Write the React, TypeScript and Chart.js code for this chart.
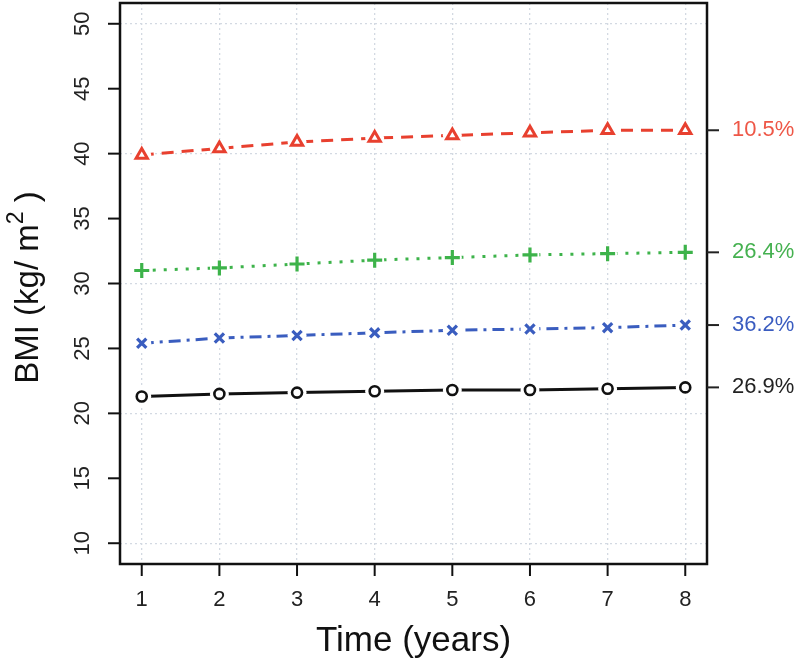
import React, { useEffect, useRef } from "react";
import { Chart, registerables } from "chart.js";

Chart.register(...registerables);

const years = [1, 2, 3, 4, 5, 6, 7, 8];
const redValues = [39.9, 40.4, 40.9, 41.2, 41.4, 41.6, 41.8, 41.8];
const greenValues = [31.0, 31.2, 31.5, 31.8, 32.0, 32.2, 32.3, 32.4];
const blueValues = [25.4, 25.8, 26.0, 26.2, 26.4, 26.5, 26.6, 26.8];
const blackValues = [21.3, 21.5, 21.6, 21.7, 21.8, 21.8, 21.9, 22.0];
const endLabels = ["10.5%", "26.4%", "36.2%", "26.9%"];
const yTickValues = [10, 15, 20, 25, 30, 35, 40, 45, 50];
const yGridValues = [10, 20, 30, 40, 50];
const xTickValues = [1, 2, 3, 4, 5, 6, 7, 8];

const FONT = '"Liberation Sans", Arial, Helvetica, sans-serif';

const seriesColors = ["#e8402f", "#3db34a", "#3a5dbf", "#111111"];
const labelColors = ["#ee5747", "#45b150", "#3a5cc0", "#222222"];

const toXY = (vals: number[]) => years.map((x, i) => ({ x, y: vals[i] }));

const decorPlugin = {
  id: "decor",
  afterDatasetsDraw(chart: any) {
    const ctx = chart.ctx;
    const ca = chart.chartArea;
    chart.data.datasets.forEach((ds: any, di: number) => {
      const meta = chart.getDatasetMeta(di);
      meta.data.forEach((pt: any) => {
        ctx.save();
        ctx.fillStyle = "#ffffff";
        ctx.beginPath();
        ctx.arc(pt.x, pt.y, 9.5, 0, Math.PI * 2);
        ctx.fill();
        ctx.restore();
        pt.draw(ctx, ca);
      });
    });
  },
  afterDraw(chart: any) {
    const ctx = chart.ctx;
    const ca = chart.chartArea;
    const xs = chart.scales.x;
    const ys = chart.scales.y;
    ctx.save();
    ctx.strokeStyle = "#111";
    ctx.lineWidth = 2.5;
    ctx.setLineDash([]);
    ctx.strokeRect(ca.left, ca.top, ca.right - ca.left, ca.bottom - ca.top);

    ctx.lineWidth = 2;
    ctx.fillStyle = "#222";
    ctx.font = `22px ${FONT}`;
    yTickValues.forEach((v) => {
      const py = ys.getPixelForValue(v);
      ctx.beginPath();
      ctx.moveTo(ca.left - 12, py);
      ctx.lineTo(ca.left, py);
      ctx.stroke();
      ctx.save();
      ctx.translate(83, py);
      ctx.rotate(-Math.PI / 2);
      ctx.textAlign = "center";
      ctx.textBaseline = "middle";
      ctx.fillText(String(v), 0, 0);
      ctx.restore();
    });

    xTickValues.forEach((v) => {
      const px = xs.getPixelForValue(v);
      ctx.beginPath();
      ctx.moveTo(px, ca.bottom);
      ctx.lineTo(px, ca.bottom + 12);
      ctx.stroke();
      ctx.textAlign = "center";
      ctx.textBaseline = "middle";
      ctx.fillText(String(v), px, 600);
    });

    const lastVals = [redValues, greenValues, blueValues, blackValues].map((a) => a[a.length - 1]);
    lastVals.forEach((v, i) => {
      const py = ys.getPixelForValue(v);
      ctx.strokeStyle = "#222";
      ctx.beginPath();
      ctx.moveTo(ca.right, py);
      ctx.lineTo(ca.right + 12, py);
      ctx.stroke();
      ctx.fillStyle = labelColors[i];
      ctx.textAlign = "left";
      ctx.textBaseline = "middle";
      ctx.fillText(endLabels[i], ca.right + 25, py);
    });

    ctx.fillStyle = "#111";
    ctx.font = `35px ${FONT}`;
    ctx.textAlign = "center";
    ctx.textBaseline = "middle";
    ctx.fillText("Time (years)", (ca.left + ca.right) / 2, 641);

    ctx.save();
    const cy = (ca.top + ca.bottom) / 2 + 4;
    ctx.translate(26, cy);
    ctx.rotate(-Math.PI / 2);
    const big = `33px ${FONT}`;
    const small = `23px ${FONT}`;
    const p1 = "BMI (kg/ m";
    const p2 = "2";
    const p3 = " )";
    ctx.font = big;
    const w1 = ctx.measureText(p1).width;
    const w3 = ctx.measureText(p3).width;
    ctx.font = small;
    const w2 = ctx.measureText(p2).width;
    const total = w1 + w2 + w3;
    let x0 = -total / 2;
    ctx.textAlign = "left";
    ctx.textBaseline = "alphabetic";
    ctx.font = big;
    ctx.fillText(p1, x0, 12);
    x0 += w1;
    ctx.font = small;
    ctx.fillText(p2, x0, -3);
    x0 += w2;
    ctx.font = big;
    ctx.fillText(p3, x0, 12);
    ctx.restore();

    ctx.restore();
  },
};

export default function App() {
  const ref = useRef<HTMLCanvasElement | null>(null);
  useEffect(() => {
    document.body.style.margin = "0";
    const canvas = ref.current;
    if (!canvas) return;
    const gridOpts = {
      drawTicks: false,
      color: "#d3d9e2",
      lineWidth: 1.3,
      tickLength: 0,
    };
    const chart = new Chart(canvas, {
      type: "line",
      data: {
        datasets: [
          {
            label: "red",
            data: toXY(redValues),
            borderColor: seriesColors[0],
            backgroundColor: "#ffffff",
            borderWidth: 3,
            borderDash: [12, 8],
            pointStyle: "triangle",
            pointRadius: 6.5,
            pointBorderWidth: 3,
            pointBorderColor: seriesColors[0],
            pointBackgroundColor: "#ffffff",
          },
          {
            label: "green",
            data: toXY(greenValues),
            borderColor: seriesColors[1],
            backgroundColor: "#ffffff",
            borderWidth: 3,
            borderDash: [3, 8],
            pointStyle: "cross",
            pointRadius: 7.5,
            pointBorderWidth: 3.2,
            pointBorderColor: seriesColors[1],
            pointBackgroundColor: "#ffffff",
          },
          {
            label: "blue",
            data: toXY(blueValues),
            borderColor: seriesColors[2],
            backgroundColor: "#ffffff",
            borderWidth: 3,
            borderDash: [12, 6, 3, 6],
            pointStyle: "crossRot",
            pointRadius: 6.5,
            pointBorderWidth: 3.2,
            pointBorderColor: seriesColors[2],
            pointBackgroundColor: "#ffffff",
          },
          {
            label: "black",
            data: toXY(blackValues),
            borderColor: seriesColors[3],
            backgroundColor: "#ffffff",
            borderWidth: 3,
            pointStyle: "circle",
            pointRadius: 5,
            pointBorderWidth: 2.6,
            pointBorderColor: seriesColors[3],
            pointBackgroundColor: "#ffffff",
          },
        ],
      },
      options: {
        responsive: false,
        animation: false,
        layout: { autoPadding: false, padding: { left: 120, top: 3, right: 93, bottom: 98 } },
        plugins: { legend: { display: false }, tooltip: { enabled: false } },
        elements: { line: { tension: 0 } },
        scales: {
          x: {
            type: "linear",
            min: 0.72,
            max: 8.28,
            afterBuildTicks: (axis: any) => {
              axis.ticks = xTickValues.map((v) => ({ value: v }));
            },
            ticks: { display: false },
            border: { display: false, dash: [2, 3] },
            grid: gridOpts,
          },
          y: {
            type: "linear",
            min: 8.4,
            max: 51.6,
            afterBuildTicks: (axis: any) => {
              axis.ticks = yGridValues.map((v) => ({ value: v }));
            },
            ticks: { display: false },
            border: { display: false, dash: [2, 3] },
            grid: gridOpts,
          },
        },
      },
      plugins: [decorPlugin],
    } as any);
    return () => chart.destroy();
  }, []);
  return (
    <div style={{ width: 800, height: 662, background: "#fff" }}>
      <canvas ref={ref} width={800} height={662} style={{ display: "block" }} />
    </div>
  );
}
